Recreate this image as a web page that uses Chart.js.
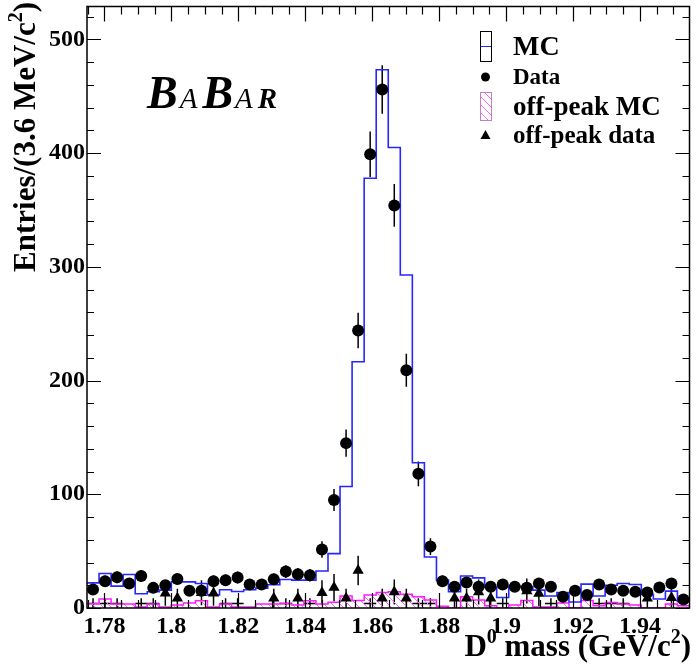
<!DOCTYPE html>
<html><head><meta charset="utf-8">
<script src="https://cdn.jsdelivr.net/npm/chart.js@4/dist/chart.umd.min.js"></script>
<style>html,body{margin:0;padding:0;background:#fff;}#wrap{width:696px;height:667px;}</style>
</head><body><div id="wrap"><canvas id="c" width="696" height="667"></canvas></div>
<script>
// ---- data (50 bins of 3.6 MeV starting at 1.7748 GeV) ----
const binLow = 1.7748;
const binWidth = 0.0036;
const mcValues = [22.1, 30.3, 19.2, 29.4, 12.5, 14.3, 15.7, 23, 23, 21.5, 11.5, 16, 14.5, 16, 17.5, 20.5, 25, 24.5, 24.5, 32.6, 47.8, 106.8, 216.6, 378, 473.4, 405, 292.9, 127.8, 44.8, 24.5, 14.3, 28.2, 26.5, 18.3, 9.2, 19, 18.6, 15.7, 10.5, 13.5, 5.3, 21, 10.5, 20, 21.5, 20.7, 12, 7.9, 14.8, 5.5];
const dataValues = [16.3, 23.6, 27, 21.6, 28.2, 17.7, 20, 25.6, 15.1, 15.1, 23.6, 24.5, 26.8, 20.7, 20.7, 25.3, 32, 29.7, 28.8, 51.5, 95, 145, 244, 399, 456, 354, 209, 118, 54, 23.6, 18.6, 22.4, 18.6, 18.6, 20.7, 18.6, 17.8, 21.6, 18.6, 9.9, 15.1, 11.4, 20.7, 16.3, 15.1, 14.3, 13.7, 18, 21.6, 7.5];
const dataErrors = [4, 4.9, 5.2, 4.6, 5.3, 4.2, 4.5, 5.1, 3.9, 3.9, 4.9, 4.9, 5.2, 4.5, 4.5, 5, 5.7, 5.4, 5.4, 7.2, 9.7, 12, 15.6, 20, 21.4, 18.8, 14.5, 10.9, 7.3, 4.9, 4.3, 4.7, 4.3, 4.3, 4.5, 4.3, 4.2, 4.6, 4.3, 3.1, 3.9, 3.4, 4.5, 4, 3.9, 3.8, 3.7, 4.2, 4.6, 2.8];
const offMcValues = [3.8, 8, 3.5, 3.5, 0.9, 3.5, 0.9, 2.6, 4.4, 6.4, 0.9, 3.5, 0.9, 0.9, 3.5, 3.5, 4, 2.6, 6.4, 3.5, 5, 10.5, 6.6, 11.4, 13.7, 14.2, 12, 9.9, 7, 1.5, 0, 10, 7, 2, 0, 2.6, 6.6, 0.9, 0.9, 4.4, 0, 6.6, 2, 4.8, 3.5, 2.6, 0, 0, 3.5, 2];
const offDataValues = [null, null, null, null, null, null, 13, 8.5, null, 13.5, 13, null, null, null, null, 8.5, null, 8.5, null, 13.5, 18, 8.5, 33, null, 8.5, 14, 8.5, null, null, null, 8.5, 8.5, 14, 8.5, null, null, 15, 12.8, null, null, null, null, null, null, null, null, 8.5, null, 9, null];
const offDataErrors = [0, 0, 0, 0, 0, 0, 11, 8.5, 0, 11, 11, 0, 0, 0, 0, 8.5, 0, 8.5, 0, 11, 12, 8.5, 13, 0, 8.5, 11, 8.5, 0, 0, 0, 8.5, 8.5, 11, 8.5, 0, 0, 11, 11, 0, 0, 0, 0, 0, 0, 0, 0, 8.5, 0, 8.5, 0];
const offLowValues = [4, 4, 4, null, 4, 4, null, null, null, null, null, 4, 4, null, null, null, 4, null, 4, null, null, null, null, 4, null, null, null, 4, 4, null, null, null, null, null, 4, null, null, null, 4, null, null, null, 4, 4, 4, null, null, null, null, null];
const offLowErrors = 4.5;
const xTickLabels = [1.78, 1.80, 1.82, 1.84, 1.86, 1.88, 1.90, 1.92, 1.94];
const yTickLabels = [0, 100, 200, 300, 400, 500];
const legendLabels = ['MC', 'Data', 'off-peak MC', 'off-peak data'];

const xMin = binLow, xMax = binLow + 50 * binWidth, yMax = 529;
const SERIF = '"Liberation Serif", "Times New Roman", serif';
const BLUE = '#2626ff', MAG = '#ff1aff';

function centers(vals) { return vals.map((v, i) => ({ x: binLow + (i + 0.5) * binWidth, y: v })); }
function edges(vals) {
  const p = vals.map((v, i) => ({ x: binLow + i * binWidth, y: v }));
  p.push({ x: binLow + vals.length * binWidth, y: vals[vals.length - 1] });
  return p;
}
const canvas = document.getElementById('c');
const ctx0 = canvas.getContext('2d');
function hatchPattern() {
  const c = document.createElement('canvas'); c.width = 8; c.height = 8;
  const g = c.getContext('2d');
  g.strokeStyle = '#ff66ff'; g.lineWidth = 1;
  g.beginPath();
  g.moveTo(-2, -2); g.lineTo(10, 10);
  g.moveTo(-6, 2); g.lineTo(2, 10);
  g.moveTo(6, -2); g.lineTo(14, 6);
  g.stroke();
  return ctx0.createPattern(c, 'repeat');
}
const hatch = hatchPattern();

function fmt(v) { return (Math.round(v * 100) / 100).toString(); }

const histoPlugin = {
  id: 'histo',
  beforeDatasetsDraw(chart) {
    const { ctx, scales: { x, y }, chartArea: a } = chart;
    ctx.save();
    ctx.beginPath(); ctx.rect(a.left, a.top, a.right - a.left, a.bottom - a.top); ctx.clip();
    ctx.strokeStyle = '#000'; ctx.lineWidth = 1.5;
    const bar = (i, v, e, horiz) => {
      const cx = x.getPixelForValue(binLow + (i + 0.5) * binWidth);
      const yl = y.getPixelForValue(Math.max(0, v - e)), yh = y.getPixelForValue(v + e), yc = y.getPixelForValue(v);
      ctx.beginPath(); ctx.moveTo(cx, yl); ctx.lineTo(cx, yh);
      if (horiz) {
        ctx.moveTo(x.getPixelForValue(binLow + i * binWidth), yc);
        ctx.lineTo(x.getPixelForValue(binLow + (i + 1) * binWidth), yc);
      }
      ctx.stroke();
    };
    offLowValues.forEach((v, i) => { if (v !== null) bar(i, v, offLowErrors, true); });
    offDataValues.forEach((v, i) => { if (v !== null) bar(i, v, offDataErrors[i], false); });
    dataValues.forEach((v, i) => bar(i, v, dataErrors[i], false));
    ctx.restore();
  },
  afterDraw(chart) {
    const { ctx, scales: { x, y }, chartArea: a } = chart;
    ctx.save();
    // ticks (inside frame, mirrored)
    ctx.strokeStyle = '#000'; ctx.lineWidth = 1.2;
    ctx.beginPath();
    for (let v = 0; v <= yMax; v += 20) {
      const py = Math.round(y.getPixelForValue(v)) + 0.5;
      const L = (v % 100 === 0) ? 14 : 7;
      ctx.moveTo(a.left, py); ctx.lineTo(a.left + L, py);
      ctx.moveTo(a.right, py); ctx.lineTo(a.right - L, py);
    }
    for (let k = 0; k * 0.005 + 1.775 <= xMax; k++) {
      const v = 1.775 + k * 0.005;
      const px = Math.round(x.getPixelForValue(v)) + 0.5;
      const L = (k % 4 === 1) ? 15 : 8;
      ctx.moveTo(px, a.bottom); ctx.lineTo(px, a.bottom - L);
      ctx.moveTo(px, a.top); ctx.lineTo(px, a.top + L);
    }
    ctx.stroke();
    // frame
    ctx.lineWidth = 1.5;
    ctx.strokeRect(a.left, a.top, a.right - a.left, a.bottom - a.top);
    // tick labels
    ctx.fillStyle = '#000';
    ctx.font = 'bold 24px ' + SERIF;
    ctx.textAlign = 'right'; ctx.textBaseline = 'middle';
    yTickLabels.forEach(v => ctx.fillText(String(v), a.left - 2, y.getPixelForValue(v)));
    ctx.textAlign = 'center'; ctx.textBaseline = 'alphabetic';
    xTickLabels.forEach(v => ctx.fillText(fmt(v), x.getPixelForValue(v), a.bottom + 25));
    // x title: D^0 mass (GeV/c^2), right aligned
    const big = 'bold 31px ' + SERIF, small = 'bold 20px ' + SERIF;
    const parts = [['D', big, 0], ['0', small, -13], [' mass (GeV/c', big, 0], ['2', small, -13], [')', big, 0]];
    let w = 0;
    parts.forEach(p => { ctx.font = p[1]; w += ctx.measureText(p[0]).width; });
    let px = 691 - w;
    ctx.textAlign = 'left';
    parts.forEach(p => { ctx.font = p[1]; ctx.fillText(p[0], px, 656 + p[2]); px += ctx.measureText(p[0]).width; });
    // y title rotated
    ctx.save();
    ctx.translate(35, 0); ctx.rotate(-Math.PI / 2);
    const yparts = [['Entries/(3.6 MeV/c', big, 0], ['2', small, -13], [')', big, 0]];
    w = 0; yparts.forEach(p => { ctx.font = p[1]; w += ctx.measureText(p[0]).width; });
    px = -2 - w;
    yparts.forEach(p => { ctx.font = p[1]; ctx.fillText(p[0], px, p[2]); px += ctx.measureText(p[0]).width; });
    ctx.restore();
    // BABAR logo
    const logo = [['B', 'bold italic 46px ' + SERIF], ['A', 'italic 29px ' + SERIF], ['B', 'bold italic 46px ' + SERIF], ['A', 'italic 29px ' + SERIF], ['R', 'bold italic 29px ' + SERIF]];
    px = 147;
    logo.forEach((p, i) => { ctx.font = p[1]; ctx.fillText(p[0], px, 108); px += ctx.measureText(p[0]).width + (i === 0 || i === 2 ? 2 : 5); });
    // legend
    ctx.lineWidth = 1;
    ctx.strokeStyle = '#000';
    ctx.fillStyle = '#fff';
    ctx.fillRect(480.5, 31.5, 11, 30); ctx.strokeRect(480.5, 31.5, 11, 30);
    ctx.strokeStyle = BLUE; ctx.beginPath(); ctx.moveTo(481, 46.5); ctx.lineTo(491, 46.5); ctx.stroke();
    ctx.fillStyle = '#000';
    ctx.beginPath(); ctx.arc(485.5, 77, 4.5, 0, Math.PI * 2); ctx.fill();
    ctx.fillStyle = hatch; ctx.fillRect(480.5, 92.5, 11, 28);
    ctx.strokeStyle = '#c080c0'; ctx.strokeRect(480.5, 92.5, 11, 28);
    ctx.fillStyle = '#000';
    ctx.beginPath(); ctx.moveTo(485.5, 130); ctx.lineTo(490.5, 139); ctx.lineTo(480.5, 139); ctx.closePath(); ctx.fill();
    ctx.textAlign = 'left'; ctx.textBaseline = 'alphabetic';
    const lg = [[legendLabels[0], 28, 55], [legendLabels[1], 23, 84], [legendLabels[2], 27, 115], [legendLabels[3], 25, 143]];
    lg.forEach(l => { ctx.font = 'bold ' + l[1] + 'px ' + SERIF; ctx.fillText(l[0], 513, l[2]); });
    ctx.restore();
  }
};

new Chart(canvas, {
  type: 'scatter',
  data: {
    datasets: [
      { label: 'Data', data: centers(dataValues), pointStyle: 'circle', pointRadius: 6, pointHoverRadius: 6, backgroundColor: '#000', borderColor: '#000', borderWidth: 0 },
      { label: 'off-peak data', data: centers(offDataValues), pointStyle: 'triangle', pointRadius: 6.5, pointHoverRadius: 6.5, backgroundColor: '#000', borderColor: '#000', borderWidth: 0 },
      { label: 'off-peak low', data: centers(offLowValues), pointRadius: 0, showLine: false },
      { label: 'MC', type: 'line', data: edges(mcValues), stepped: 'before', borderColor: BLUE, borderWidth: 1.6, pointRadius: 0, fill: false, tension: 0 },
      { label: 'off-peak MC', type: 'line', data: edges(offMcValues), stepped: 'before', borderColor: MAG, borderWidth: 1.5, pointRadius: 0, fill: 'origin', backgroundColor: hatch, tension: 0 }
    ]
  },
  options: {
    responsive: false, animation: false, devicePixelRatio: 1,
    layout: { padding: { left: 87, right: 1, top: 2, bottom: 59 } },
    plugins: { legend: { display: false }, tooltip: { enabled: false } },
    scales: {
      x: { type: 'linear', min: xMin, max: xMax, display: false },
      y: { type: 'linear', min: 0, max: yMax, display: false }
    }
  },
  plugins: [histoPlugin]
});
</script>
</body></html>
